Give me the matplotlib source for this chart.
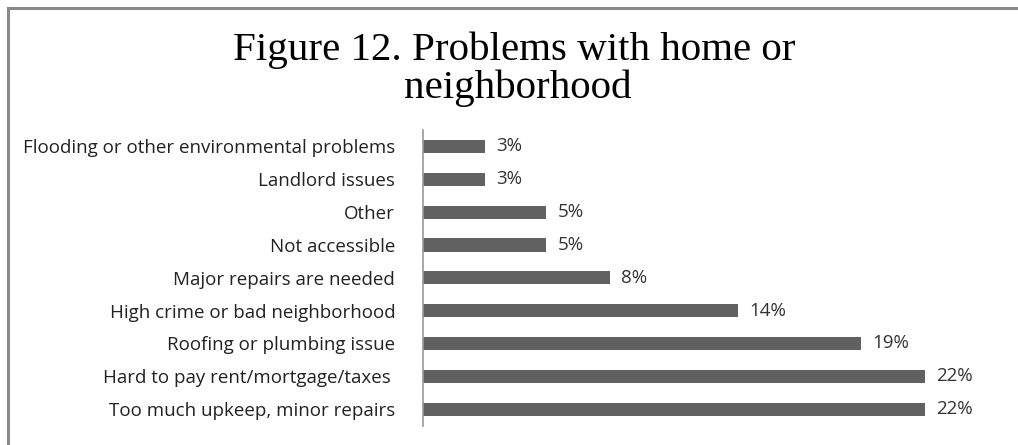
import matplotlib
matplotlib.use("Agg")
import matplotlib.pyplot as plt
from matplotlib.lines import Line2D

# categories listed bottom to top
categories = ["Too much upkeep, minor repairs",
              "Hard to pay rent/mortgage/taxes ",
              "Roofing or plumbing issue",
              "High crime or bad neighborhood",
              "Major repairs are needed",
              "Not accessible",
              "Other",
              "Landlord issues",
              "Flooding or other environmental problems"]
values = [22.0, 22.0, 19.2, 13.8, 8.2, 5.4, 5.4, 2.7, 2.7]
value_labels = ["22%", "22%", "19%", "14%", "8%", "5%", "5%", "3%", "3%"]

W, H = 1018, 445
fig = plt.figure(figsize=(W / 100, H / 100), dpi=100)

# border lines (top and left only)
fig.add_artist(Line2D([8 / W, 1], [1 - 8 / H, 1 - 8 / H], color="#8a8a8a", lw=2.2))
fig.add_artist(Line2D([8 / W, 8 / W], [0, 1 - 8 / H], color="#8a8a8a", lw=2.2))

fig.text(514 / W, 1 - 60 / H, "Figure 12. Problems with home or",
         ha="center", va="baseline", fontsize=29.5, family="Liberation Serif", color="black")
fig.text(518 / W, 1 - 98 / H, "neighborhood",
         ha="center", va="baseline", fontsize=29.5, family="Liberation Serif", color="black")

ax_left, ax_right = 423, 993
ax_top, ax_bot = 130, 425.6
ax = fig.add_axes([ax_left / W, 1 - ax_bot / H, (ax_right - ax_left) / W, (ax_bot - ax_top) / H])

y = list(range(len(categories)))
ax.barh(y, values, height=0.4, color="#616161")
for yi, v, lab in zip(y, values, value_labels):
    ax.text(v + 0.5, yi, lab, va="center", ha="left", fontsize=13.5,
            family="Open Sans", color="#333333")

ax.set_xlim(0, 25)
ax.set_ylim(-0.5, len(categories) - 0.5)
ax.set_yticks(y)
ax.set_yticklabels(categories, fontsize=13.5, family="Open Sans", color="#222222")
ax.tick_params(axis="y", length=0, pad=20)
ax.set_xticks([])
for s in ["top", "right", "bottom"]:
    ax.spines[s].set_visible(False)
ax.spines["left"].set_color("#9a9a9a")
ax.spines["left"].set_linewidth(1.2)

fig.savefig("out.png", dpi=100)
